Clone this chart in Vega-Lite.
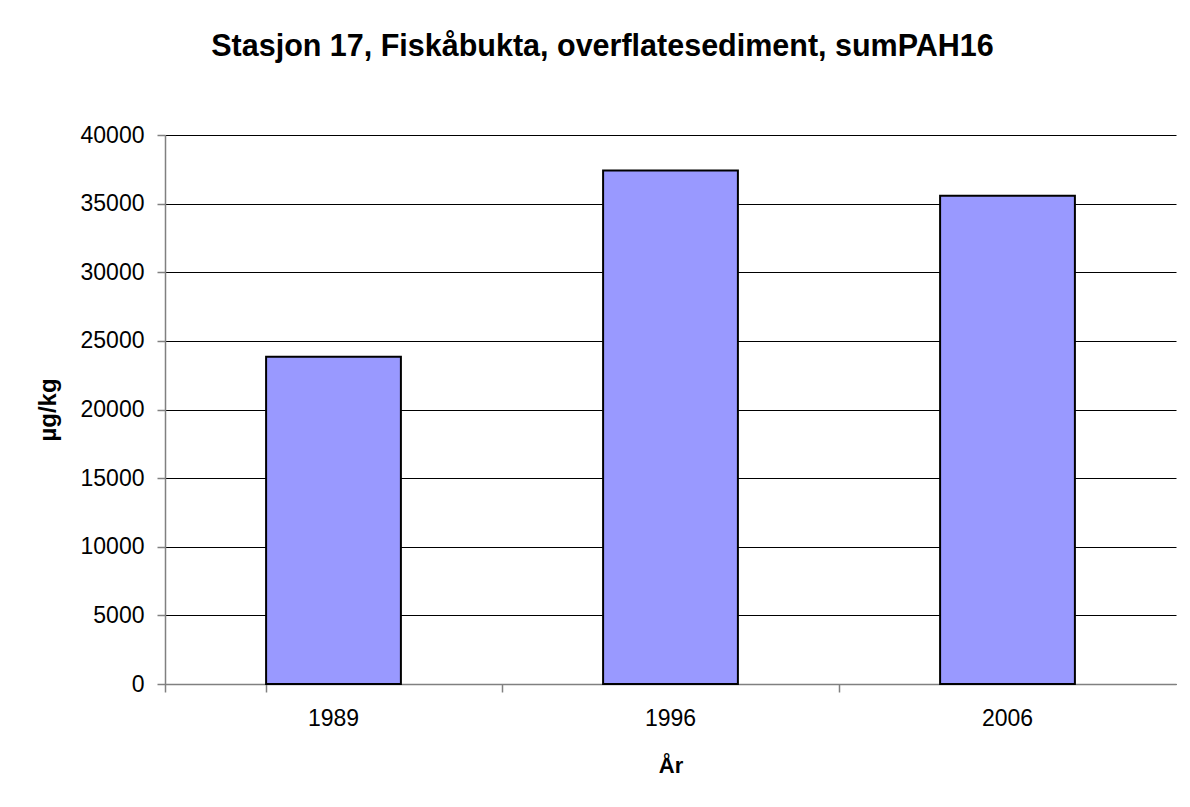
{
  "$schema": "https://vega.github.io/schema/vega-lite/v6.json",
  "width": 1011,
  "height": 549,
  "autosize": {"type": "none"},
  "padding": {"left": 165, "top": 135, "right": 14, "bottom": 123},
  "background": "white",
  "title": {
    "text": "Stasjon 17, Fiskåbukta, overflatesediment, sumPAH16",
    "font": "Liberation Sans",
    "fontSize": 30.5,
    "fontWeight": "bold",
    "color": "black",
    "anchor": "middle",
    "frame": "group",
    "baseline": "alphabetic",
    "offset": 38,
    "dx": -68
  },
  "data": {
    "values": [
      {"year": "1989", "value": 23850},
      {"year": "1996", "value": 37420},
      {"year": "2006", "value": 35570}
    ]
  },
  "mark": {"type": "bar", "fill": "#9999FF", "stroke": "black", "strokeWidth": 2},
  "encoding": {
    "x": {
      "field": "year",
      "type": "nominal",
      "sort": null,
      "scale": {"paddingInner": 0.6, "paddingOuter": 0.3},
      "axis": {
        "title": "År",
        "labelAngle": 0,
        "bandPosition": -0.75,
        "tickExtra": true,
        "tickSize": 8,
        "labelPadding": 15,
        "titlePadding": 25,
        "domainColor": "#808080",
        "tickColor": "#808080",
        "grid": false
      }
    },
    "y": {
      "field": "value",
      "type": "quantitative",
      "scale": {"domain": [0, 40000], "nice": false},
      "axis": {
        "title": "µg/kg",
        "titleFontSize": 24,
        "values": [0, 5000, 10000, 15000, 20000, 25000, 30000, 35000, 40000],
        "format": "d",
        "tickSize": 8,
        "labelPadding": 13,
        "titlePadding": 20,
        "domainColor": "#808080",
        "tickColor": "#808080",
        "grid": true,
        "gridColor": "black",
        "gridOpacity": 1
      }
    }
  },
  "config": {
    "view": {"stroke": null},
    "axis": {
      "labelFont": "Liberation Sans",
      "labelFontSize": 23,
      "labelColor": "black",
      "titleFont": "Liberation Sans",
      "titleFontSize": 22,
      "titleFontWeight": "bold",
      "titleColor": "black",
      "domainWidth": 1.5,
      "tickWidth": 1.5
    }
  }
}
